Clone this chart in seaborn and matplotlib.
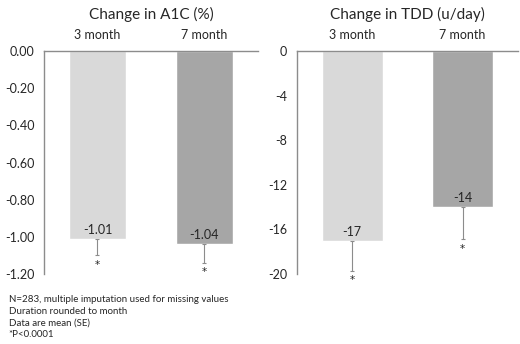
import matplotlib
matplotlib.use("Agg")
import matplotlib.pyplot as plt
import seaborn as sns
import pandas as pd
from matplotlib.ticker import FormatStrFormatter

# data
months = ["3 month", "7 month"]
a1c_mean = [-1.01, -1.04]
a1c_se = [0.09, 0.10]
tdd_mean = [-17, -14]
tdd_se = [2.7, 2.9]
footnote = ["N=283, multiple imputation used for missing values",
            "Duration rounded to month",
            "Data are mean (SE)",
            "*P<0.0001"]

sns.set_style("white")
plt.rcParams['font.family'] = ['Lato', 'DejaVu Sans']
bar_colors = ["#d9d9d9", "#a6a6a6"]
grey = "#8c8c8c"

fig = plt.figure(figsize=(5.2, 3.44), dpi=100)
ax1 = fig.add_axes([0.0846, 0.2035, 0.4115, 0.648])
ax2 = fig.add_axes([0.571, 0.2035, 0.425, 0.648])


def draw(ax, mean, se, title, ylim, step, fmt, lab_fmt, width):
    df = pd.DataFrame({"month": months, "value": mean})
    sns.barplot(data=df, x="month", y="value", hue="month", palette=bar_colors,
                width=width, errorbar=None, legend=False, ax=ax, saturation=1)
    ax.errorbar(range(len(mean)), mean, yerr=[se, [0] * len(se)], fmt="none",
                ecolor=grey, elinewidth=0.8, capsize=1.5, capthick=0.8)
    for i, (m, s) in enumerate(zip(mean, se)):
        ax.annotate(lab_fmt.format(m), (i, m), xytext=(0, 2), textcoords="offset points",
                    ha="center", va="bottom", fontsize=9, color="#262626")
        # Lato's asterisk is tiny, so use DejaVu for the marks
        ax.annotate("*", (i, m - s), xytext=(0, -3), textcoords="offset points",
                    ha="center", va="top", fontsize=7.5, color="#262626",
                    family="DejaVu Sans")
    ax.set_ylim(ylim, 0)
    ax.set_xlim(-0.5, 1.5)
    ax.set_yticks([ylim + step * k for k in range(int(round(-ylim / step)) + 1)])
    ax.yaxis.set_major_formatter(FormatStrFormatter(fmt))
    ax.xaxis.tick_top()
    ax.tick_params(length=0, labelsize=9, colors="#262626", pad=7)
    ax.set_xlabel("")
    ax.set_ylabel("")
    ax.set_title(title, fontsize=11, pad=23, color="#262626")
    for sp in ["right", "bottom"]:
        ax.spines[sp].set_visible(False)
    for sp in ["left", "top"]:
        ax.spines[sp].set_color(grey)
        ax.spines[sp].set_linewidth(1)


draw(ax1, a1c_mean, a1c_se, "Change in A1C (%)", -1.2, 0.2, "%.2f", "{:.2f}", 0.54)
draw(ax2, tdd_mean, tdd_se, "Change in TDD (u/day)", -20, 4, "%d", "{:d}", 0.55)

for k, line in enumerate(footnote):
    fig.text(0.017, 1 - (300 + 11.5 * k) / 344, line, fontsize=7, va="center",
             color="#262626")

fig.savefig("out.png", dpi=100)
